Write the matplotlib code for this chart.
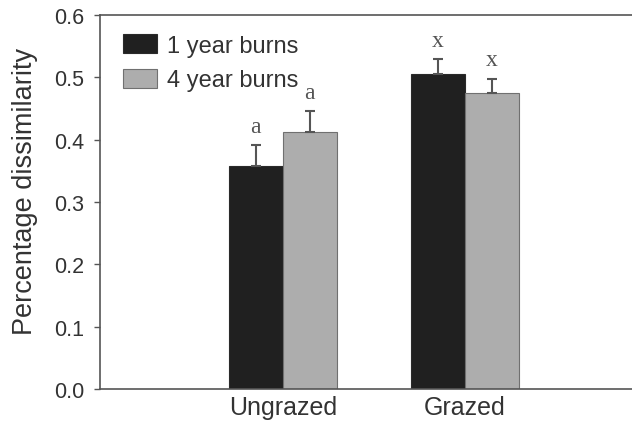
import matplotlib.pyplot as plt
import numpy as np

plt.rcParams['font.family'] = ['Liberation Sans', 'DejaVu Sans']

categories = ['Ungrazed', 'Grazed']
series = ['1 year burns', '4 year burns']
one_year = [0.358, 0.506]
one_year_err = [0.034, 0.024]
four_year = [0.413, 0.475]
four_year_err = [0.033, 0.023]
letters_one = ['a', 'x']
letters_four = ['a', 'x']

fig = plt.figure(figsize=(6.32, 4.35), dpi=100)
ax = fig.add_axes([0.158, 0.1034, 0.842, 0.8598])

x = np.arange(len(categories))
w = 0.297
txt = '#333333'
edge = '#555555'

ax.bar(x - w / 2, one_year, w, color='#202020', edgecolor='#2a2a2a', linewidth=0.8,
       label=series[0], zorder=2)
ax.bar(x + w / 2, four_year, w, color='#adadad', edgecolor='#707070', linewidth=0.8,
       label=series[1], zorder=2)
ax.errorbar(x - w / 2, one_year, yerr=[np.zeros(2), one_year_err], fmt='none',
            ecolor='#555555', elinewidth=1.5, capsize=3.8, capthick=1.5, zorder=3)
ax.errorbar(x + w / 2, four_year, yerr=[np.zeros(2), four_year_err], fmt='none',
            ecolor='#555555', elinewidth=1.5, capsize=3.8, capthick=1.5, zorder=3)

for xi, v, e, s in zip(x - w / 2, one_year, one_year_err, letters_one):
    ax.text(xi, v + e + 0.013, s, ha='center', va='bottom', fontsize=17,
            family='Liberation Serif', color='#555555')
for xi, v, e, s in zip(x + w / 2, four_year, four_year_err, letters_four):
    ax.text(xi, v + e + 0.013, s, ha='center', va='bottom', fontsize=17,
            family='Liberation Serif', color='#555555')

ax.set_xlim(-1.005, 1.918)
ax.set_ylim(0, 0.6)
ax.set_yticks(np.arange(0, 0.61, 0.1))
ax.set_yticklabels(['%.1f' % t for t in np.arange(0, 0.61, 0.1)])
ax.set_xticks(x)
ax.set_xticklabels(categories)
ax.tick_params(axis='x', length=0, pad=4, labelsize=18, colors=txt)
ax.tick_params(axis='y', direction='out', length=4.5, width=1, pad=7, labelsize=15.5,
               colors=edge, labelcolor=txt)
ax.set_ylabel('Percentage dissimilarity', fontsize=19.5, color=txt)
ax.yaxis.set_label_coords(-0.116, 0.53)

for s in ['left', 'bottom', 'top']:
    ax.spines[s].set_color(edge)
    ax.spines[s].set_linewidth(1.2)
ax.spines['right'].set_visible(False)

leg = ax.legend(loc='upper left', bbox_to_anchor=(0.025, 0.975), frameon=False,
                fontsize=17, handlelength=1.45, handleheight=0.9, handletextpad=0.45,
                labelspacing=0.5, borderaxespad=0, labelcolor=txt)

fig.savefig('out.png', dpi=100)
